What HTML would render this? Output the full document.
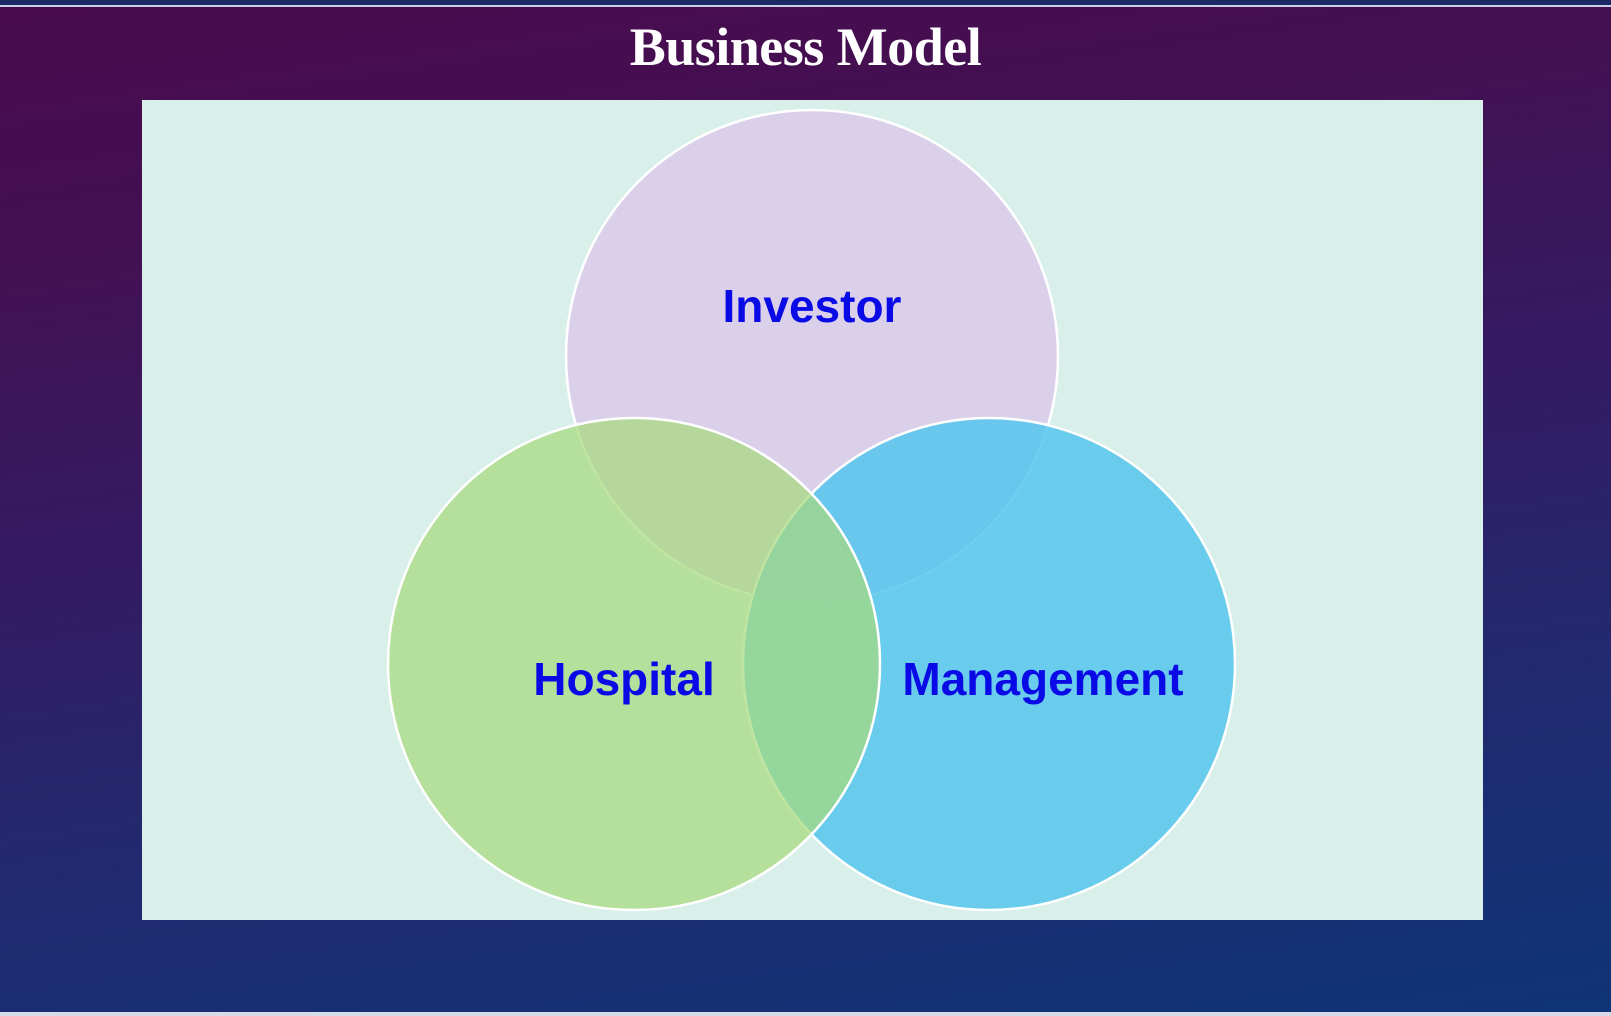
<!DOCTYPE html>
<html><head><meta charset="utf-8"><style>
html,body{margin:0;padding:0}
body{width:1611px;height:1016px;overflow:hidden;position:relative;
background:linear-gradient(172deg,#4a0b4e 0%,#431052 20%,#351a62 45%,#22296e 70%,#0f3478 100%);}
.topline{position:absolute;left:0;top:0;width:1611px;height:5px;background:#1b2a66;border-bottom:2px solid #c8d0e8}
.botline{position:absolute;left:0;top:1012px;width:1611px;height:4px;background:#d6dbe8}
.title{position:absolute;left:0;width:1611px;top:16px;text-align:center;color:#fff;font:bold 54px "Liberation Serif",serif;letter-spacing:-0.5px}
svg{position:absolute;left:0;top:0}
</style></head><body>
<div class="topline"></div>
<div class="botline"></div>
<div class="title">Business Model</div>
<svg width="1611" height="1016">
<rect x="142" y="100" width="1341" height="820" fill="#d9efea"/>
<circle cx="812" cy="356" r="246" fill="#dbd0ea" stroke="#fff" stroke-width="2.5"/>
<circle cx="989" cy="664" r="246" fill="#4cc3ec" fill-opacity="0.8" stroke="#fff" stroke-width="2.5"/>
<circle cx="634" cy="664" r="246" fill="#a6da7e" fill-opacity="0.72" stroke="#fff" stroke-width="2.5"/>
<g font-family="Liberation Sans, sans-serif" font-weight="bold" font-size="46" fill="#0a0ae6" text-anchor="middle">
<text x="812" y="322">Investor</text>
<text x="624" y="695">Hospital</text>
<text x="1043" y="695">Management</text>
</g>
</svg>
</body></html>
